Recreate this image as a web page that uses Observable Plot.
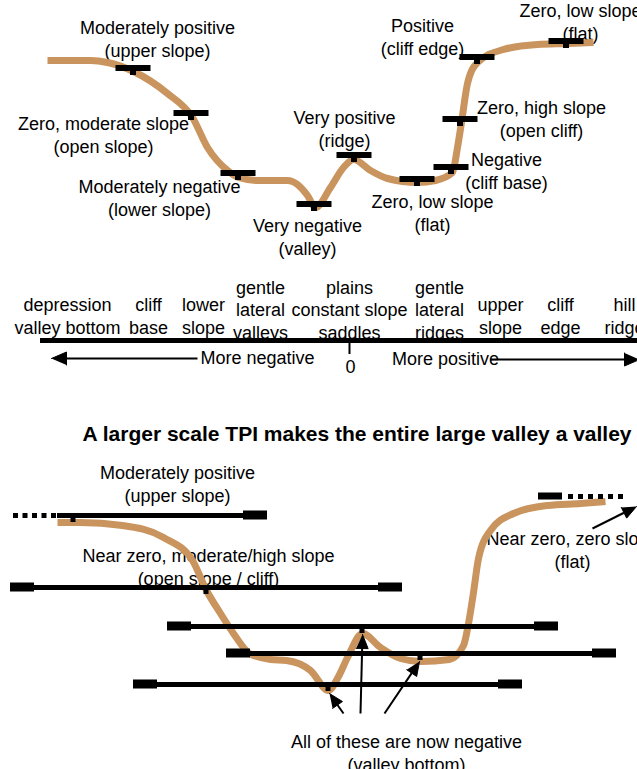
<!DOCTYPE html>
<html>
<head>
<meta charset="utf-8">
<script src="https://cdn.jsdelivr.net/npm/d3@7"></script>
<script src="https://cdn.jsdelivr.net/npm/@observablehq/plot@0.6"></script>
<style>
  html, body { margin: 0; padding: 0; background: #fff; }
</style>
</head>
<body>
<div id="chart"></div>
<script>
// ---------- DATA (diagram units) ----------
// Upper panel: small-scale terrain profile
const topProfileX = [47, 90, 107, 133, 167, 192, 207, 227, 238, 257, 287, 297, 307, 315, 330, 343, 353, 370, 387, 417, 435, 452, 457, 461, 467, 477, 503, 537, 567, 593];
const topProfileY = [60, 60, 62, 71, 93, 117, 147, 170, 177, 180, 180, 184, 195, 207, 187, 167, 159, 170, 178, 182, 180, 172, 147, 122, 83, 62, 49, 44, 43, 42];

// TPI neighbourhood markers along the upper profile
const topMarkerX = [133, 191, 238, 314, 354, 417, 451, 460, 477, 566];
const topMarkerY = [68, 113, 173, 204, 155, 179, 167, 119, 57, 41];

// Labels of the upper panel
const topLabelText = [
  "Moderately positive\n(upper slope)",
  "Zero, moderate slope\n(open slope)",
  "Moderately negative\n(lower slope)",
  "Very negative\n(valley)",
  "Very positive\n(ridge)",
  "Zero, low slope\n(flat)",
  "Negative\n(cliff base)",
  "Zero, high slope\n(open cliff)",
  "Positive\n(cliff edge)",
  "Zero, low slope\n(flat)"
];
const topLabelX = [157, 103, 159, 307, 344, 432, 506, 541, 422, 580];
const topLabelY = [38, 134, 197, 236, 128, 212, 170, 118, 36, 21];

// TPI scale (landform classes from negative to positive)
const scaleTerms = [
  "depression\nvalley bottom", "cliff\nbase", "lower\nslope",
  "gentle\nlateral\nvalleys", "plains\nconstant slope\nsaddles", "gentle\nlateral\nridges",
  "upper\nslope", "cliff\nedge", "hill\nridge"
];
const scaleTermX = [67, 148, 203, 260, 349, 439, 500, 560, 624];
const scaleTermBaseline = [333, 333, 333, 338, 338, 338, 333, 333, 333];
const scaleWords = ["More negative", "0", "More positive"];
const scaleWordX = [257, 350, 445];
const scaleWordY = [358, 367, 359];

// Lower panel: same terrain seen at a larger scale
const bottomProfileX = [57, 80, 122, 163, 192, 206, 220, 233, 249, 270, 286, 310, 328, 338, 347, 362, 380, 400, 420, 449, 463, 468, 473, 478, 490, 513, 547, 580, 605];
const bottomProfileY = [522, 522, 525, 537, 560, 590, 613, 633, 653, 659, 660, 670, 690, 676, 657, 633, 647, 658, 661, 659, 645, 623, 592, 558, 530, 513, 505, 503, 501];

// Large neighbourhood windows
const windowY  = [515, 587, 626, 653, 684];
const windowX1 = [57, 10, 167, 226, 133];
const windowX2 = [267, 402, 558, 616, 522];
const windowLeftCap = [false, true, true, true, true];
const windowCenterX = [73, 206, 362, 420, 328];

const bottomLabelText = [
  "Moderately positive\n(upper slope)",
  "Near zero, moderate/high slope\n(open slope / cliff)",
  "Near zero, zero slope\n(flat)",
  "All of these are now negative\n(valley bottom)"
];
const bottomLabelX = [177, 208, 572, 406];
const bottomLabelY = [483, 566, 549, 752];
const titleText = "A larger scale TPI makes the entire large valley a valley";

// Arrows: tail -> tip
const arrowTailX = [197, 490, 343, 360, 384, 592];
const arrowTailY = [358, 359, 713, 713, 713, 528];
const arrowTipX  = [51, 639, 329, 362, 419, 636];
const arrowTipY  = [358, 359, 693, 634, 661, 506];

// ---------- BUILD ----------
const W = 637, H = 769;
const FONT = "Liberation Sans, Arial, Helvetica, sans-serif";
const TAN = "#c9945d";
const FS = 18;

const zip = (xs, ys) => xs.map((x, i) => ({x, y: ys[i]}));
const topProfile = zip(topProfileX, topProfileY);
const bottomProfile = zip(bottomProfileX, bottomProfileY);
const topMarkers = zip(topMarkerX, topMarkerY);
const topLabels = topLabelText.map((t, i) => ({t, x: topLabelX[i], y: topLabelY[i]}));
const scaleLabels = scaleTerms.map((t, i) => ({t, x: scaleTermX[i], y: scaleTermBaseline[i]}));
const scaleTexts = scaleWords.map((t, i) => ({t, x: scaleWordX[i], y: scaleWordY[i]}));
const windows = windowY.map((y, i) => ({y, x1: windowX1[i], x2: windowX2[i], left: windowLeftCap[i], cx: windowCenterX[i]}));
const bottomLabels = bottomLabelText.map((t, i) => ({t, x: bottomLabelX[i], y: bottomLabelY[i]}));
const arrows = arrowTailX.map((tx, i) => ({tx, ty: arrowTailY[i], px: arrowTipX[i], py: arrowTipY[i], big: i < 2}));

// arrowhead geometry derived from each arrow
arrows.forEach((a, i) => {
  const dx = a.px - a.tx, dy = a.py - a.ty, L = Math.hypot(dx, dy);
  a.ux = dx / L; a.uy = dy / L;
  a.hl = a.big ? 15 : 14; a.hw = a.big ? 6.5 : 6;
  a.bx = a.px - a.ux * a.hl; a.by = a.py - a.uy * a.hl;
  a.id = i;
});
const heads = arrows.flatMap(a => [
  {id: a.id, x: a.px, y: a.py},
  {id: a.id, x: a.bx - a.uy * a.hw, y: a.by + a.ux * a.hw},
  {id: a.id, x: a.bx + a.uy * a.hw, y: a.by - a.ux * a.hw}
]);

const CAP = 24;
const chart = Plot.plot({
  width: W, height: H,
  margin: 0,
  x: {domain: [0, W], range: [0, W], axis: null},
  y: {domain: [0, H], range: [0, H], axis: null},
  style: {background: "#fff", fontFamily: FONT},
  marks: [
    // ---- upper panel ----
    Plot.text(topLabels, {x: "x", y: "y", text: "t", fontSize: FS, fontFamily: FONT, lineHeight: 1.27, fill: "black"}),
    Plot.line(topProfile, {x: "x", y: "y", curve: "monotone-x", stroke: TAN, strokeWidth: 7, strokeLinecap: "butt"}),
    Plot.rect(topMarkers, {x1: d => d.x - 17.5, x2: d => d.x + 17.5, y1: d => d.y - 3, y2: d => d.y + 3, fill: "black"}),
    Plot.rect(topMarkers, {x1: d => d.x - 3, x2: d => d.x + 3, y1: d => d.y, y2: d => d.y + 7, fill: "black"}),

    // ---- TPI scale ----
    Plot.text(scaleLabels, {x: "x", y: "y", text: "t", fontSize: FS, fontFamily: FONT, lineHeight: 1.25, lineAnchor: "bottom", fill: "black"}),
    Plot.ruleY([340], {x1: 40, x2: W, strokeWidth: 5, stroke: "black"}),
    Plot.ruleX([349], {y1: 342, y2: 354, strokeWidth: 2, stroke: "black"}),
    Plot.text(scaleTexts, {x: "x", y: "y", text: "t", fontSize: FS, fontFamily: FONT, fill: "black"}),

    // ---- lower panel ----
    Plot.text([titleText], {x: 82, y: 434, text: d => d, textAnchor: "start", fontSize: 21, fontWeight: "bold", fontFamily: FONT, fill: "black"}),
    Plot.text(bottomLabels, {x: "x", y: "y", text: "t", fontSize: FS, fontFamily: FONT, lineHeight: 1.25, fill: "black"}),
    Plot.line(bottomProfile, {x: "x", y: "y", curve: "monotone-x", stroke: TAN, strokeWidth: 7, strokeLinecap: "butt"}),
    Plot.ruleY(windows, {y: "y", x1: "x1", x2: "x2", strokeWidth: 5, stroke: "black"}),
    Plot.rect(windows.filter(d => d.left), {x1: "x1", x2: d => d.x1 + CAP, y1: d => d.y - 4.5, y2: d => d.y + 4.5, fill: "black"}),
    Plot.rect(windows, {x1: d => d.x2 - CAP, x2: "x2", y1: d => d.y - 4.5, y2: d => d.y + 4.5, fill: "black"}),
    Plot.rect(windows, {x1: d => d.cx - 2.5, x2: d => d.cx + 2.5, y1: "y", y2: d => d.y + 7, fill: "black"}),
    // continuation of the window beyond the left edge and at the upper right
    Plot.ruleY([515], {x1: 13, x2: 56, strokeWidth: 5, stroke: "black", strokeDasharray: "5,4.5"}),
    Plot.rect([496], {x1: 538, x2: 562, y1: d => d - 3.5, y2: d => d + 3.5, fill: "black"}),
    Plot.ruleY([496], {x1: 568, x2: 626, strokeWidth: 5, stroke: "black", strokeDasharray: "5,5"}),

    // ---- arrows ----
    Plot.link(arrows, {x1: "tx", y1: "ty", x2: "bx", y2: "by", stroke: "black", strokeWidth: 2}),
    Plot.line(heads, {x: "x", y: "y", z: "id", fill: "black", stroke: "black", strokeWidth: 1})
  ]
});
document.getElementById("chart").appendChild(chart);
</script>
</body>
</html>
